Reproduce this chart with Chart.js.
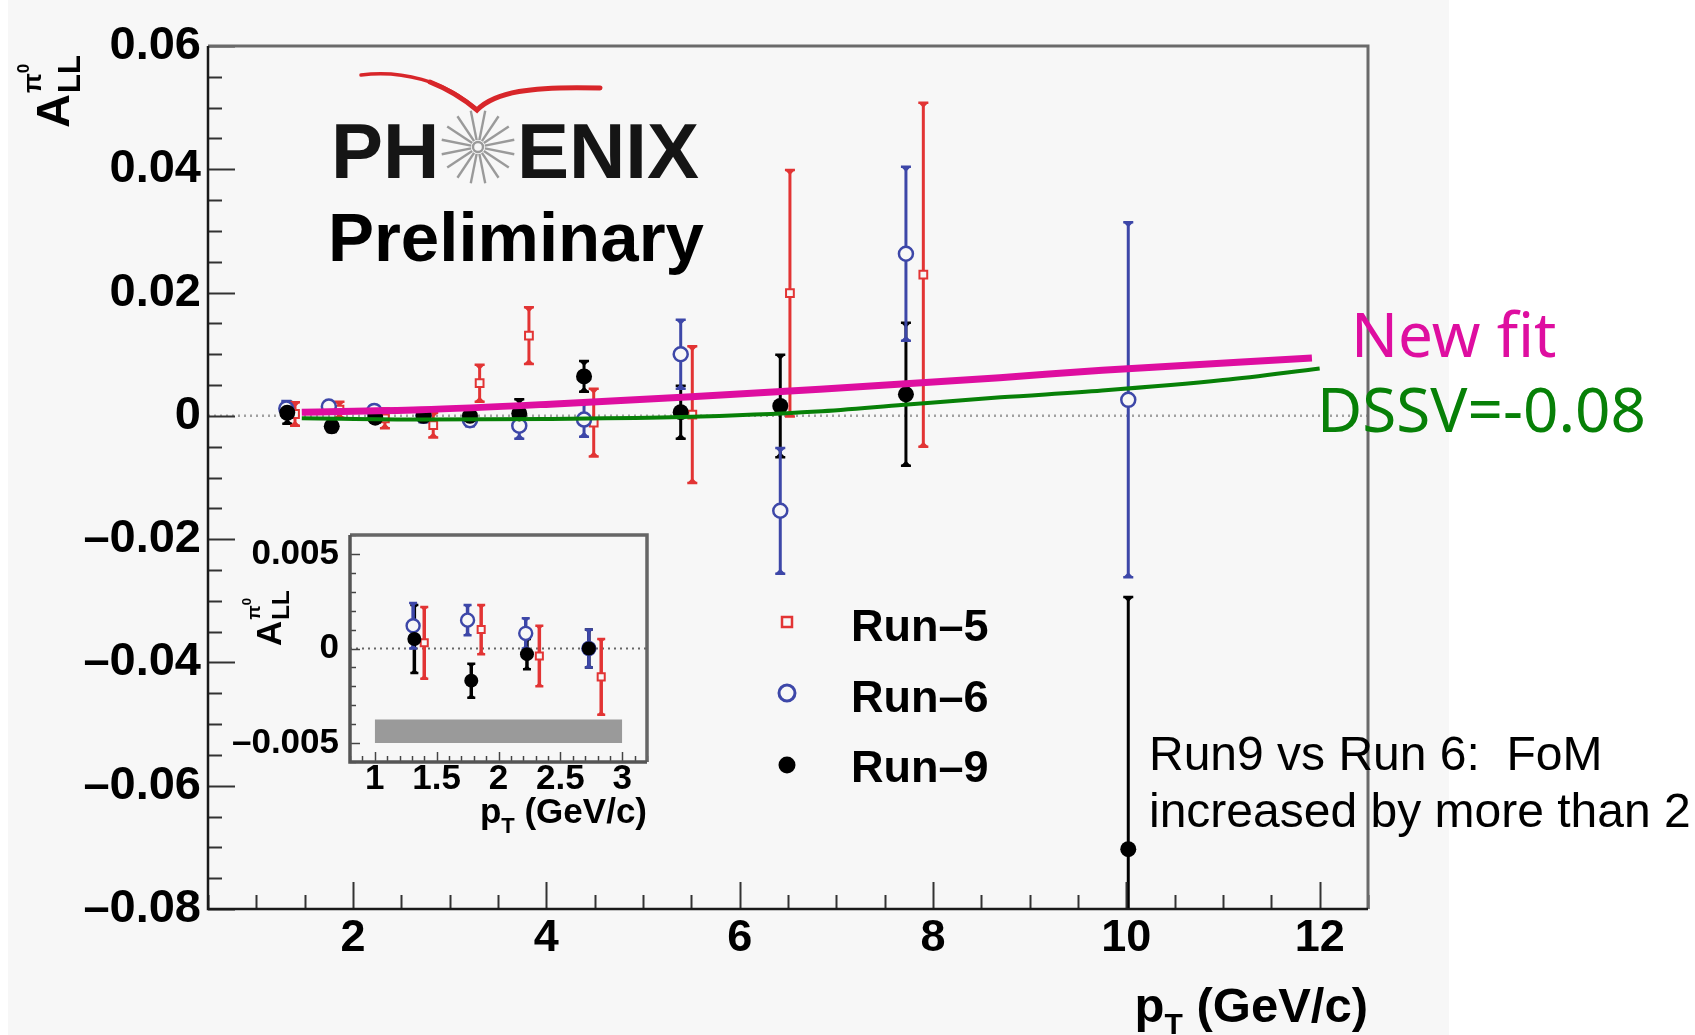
<!DOCTYPE html>
<html><head><meta charset="utf-8">
<script src="https://cdn.jsdelivr.net/npm/chart.js@4.4.1/dist/chart.umd.min.js"></script>
<style>
html,body{margin:0;padding:0;background:#fff;}
#wrap{position:relative;width:1695px;height:1035px;overflow:hidden;}
#main{position:absolute;left:0;top:0;width:1695px;height:1035px;}
#inset{position:absolute;left:230px;top:500px;width:430px;height:350px;}
</style></head><body>
<div id="wrap"><canvas id="main" width="1695" height="1035"></canvas><canvas id="inset" width="430" height="350"></canvas></div>
<script>
// ---------------- data ----------------
const run5X   = [1.40, 1.86, 2.33, 2.83, 3.31, 3.82, 4.49, 5.51, 6.52, 7.90];
const run5Y   = [0.0003, 0.0010, -0.0004, -0.0015, 0.0053, 0.0130, -0.0011, 0.0002, 0.0199, 0.0229];
const run5Err = [0.0019, 0.0013, 0.0016, 0.0020, 0.0030, 0.0046, 0.0055, 0.0111, 0.0200, 0.0279];

const run6X   = [1.31, 1.75, 2.22, 2.73, 3.21, 3.72, 4.39, 5.39, 6.42, 7.72, 10.02];
const run6Y   = [0.0012, 0.0015, 0.0008, 0.0000, -0.0007, -0.0016, -0.0006, 0.0100, -0.0154, 0.0263, 0.0026];
const run6Err = [0.0012, 0.0008, 0.0008, 0.0010, 0.0010, 0.0021, 0.0028, 0.0056, 0.0102, 0.0141, 0.0288];

const run9X   = [1.32, 1.78, 2.23, 2.73, 3.21, 3.72, 4.39, 5.39, 6.42, 7.72, 10.02];
const run9Y   = [0.0005, -0.0017, -0.0003, 0.0000, 0.0000, 0.0004, 0.0064, 0.0006, 0.0016, 0.0035, -0.0703];
const run9Err = [0.0018, 0.0009, 0.0008, 0.0010, 0.0012, 0.0023, 0.0025, 0.0043, 0.0083, 0.0116, 0.0409];

const newFitX = [1.47, 2.70, 4.04, 5.50, 6.83, 8.69, 9.75, 11.92];
const newFitY = [0.0006, 0.0010, 0.0019, 0.0031, 0.0043, 0.0062, 0.0074, 0.0094];
const dssvX   = [1.47, 2.70, 4.00, 5.40, 6.80, 7.70, 8.70, 9.75, 11.00, 12.00];
const dssvY   = [-0.0004, -0.0006, -0.0005, -0.0002, 0.0007, 0.0018, 0.0030, 0.0041, 0.0058, 0.0077];

const sysBandX    = [1, 3];
const sysBandLow  = [-0.005, -0.005];
const sysBandHigh = [-0.00375, -0.00375];

const mainXTicks = [2, 4, 6, 8, 10, 12];
const mainXTickLabels = ['2', '4', '6', '8', '10', '12'];
const mainYTicks = [-0.08, -0.06, -0.04, -0.02, 0, 0.02, 0.04, 0.06];
const mainYTickLabels = ['\u20130.08', '\u20130.06', '\u20130.04', '\u20130.02', '0', '0.02', '0.04', '0.06'];
const insetXTicks = [1, 1.5, 2, 2.5, 3];
const insetXTickLabels = ['1', '1.5', '2', '2.5', '3'];
const insetYTicks = [-0.005, 0, 0.005];
const insetYTickLabels = ['\u20130.005', '0', '0.005'];
const legendLabels = ['Run\u20135', 'Run\u20136', 'Run\u20139'];

// ---------------- styles ----------------
const BG = '#f7f7f7';
const RED = '#e23434', BLUE = '#3d47a8', BLACK = '#000000', PINK = '#de0ea0', GREEN = '#078007';
const FONT = '"Liberation Sans", Arial, sans-serif';

function pts(xs, ys, maxX) {
  const out = [];
  xs.forEach((x, i) => { if (maxX === undefined || x < maxX) out.push({x: x, y: ys[i]}); });
  return out;
}
function errs(xs, es, maxX) {
  const out = [];
  xs.forEach((x, i) => { if (maxX === undefined || x < maxX) out.push(es[i]); });
  return out;
}

// ---------------- plugins ----------------
const frameTicks = {
  id: 'frameTicks',
  beforeDatasetsDraw(chart, args, o) {
    const {ctx, chartArea: a, scales: {x, y}} = chart;
    ctx.save();
    ctx.strokeStyle = o.zeroColor; ctx.lineWidth = o.zeroWidth; ctx.setLineDash(o.zeroDash);
    const y0 = y.getPixelForValue(0);
    ctx.beginPath(); ctx.moveTo(a.left, y0); ctx.lineTo(a.right, y0); ctx.stroke();
    ctx.restore();
  },
  afterDatasetsDraw(chart, args, o) {
    const {ctx, chartArea: a, scales: {x, y}} = chart;
    ctx.save();
    ctx.strokeStyle = o.tickColor; ctx.lineWidth = o.tickWidth;
    const ky0 = Math.ceil(y.min / o.yMinor - 1e-6), ky1 = Math.floor(y.max / o.yMinor + 1e-6);
    for (let k = ky0; k <= ky1; k++) {
      const v = k * o.yMinor;
      const major = Math.abs(v / o.yMajor - Math.round(v / o.yMajor)) < 1e-6;
      const p = Math.round(y.getPixelForValue(v)) + 0.5;
      ctx.beginPath(); ctx.moveTo(a.left, p); ctx.lineTo(a.left + (major ? o.majorLen : o.minorLen), p); ctx.stroke();
    }
    const kx0 = Math.ceil(x.min / o.xMinor - 1e-6), kx1 = Math.floor(x.max / o.xMinor + 1e-6);
    for (let k = kx0; k <= kx1; k++) {
      const v = k * o.xMinor;
      const major = Math.abs(v / o.xMajor - Math.round(v / o.xMajor)) < 1e-6;
      const p = Math.round(x.getPixelForValue(v)) + 0.5;
      ctx.beginPath(); ctx.moveTo(p, a.bottom); ctx.lineTo(p, a.bottom - (major ? o.majorLen : o.minorLen)); ctx.stroke();
    }
    ctx.strokeStyle = o.frameColor; ctx.lineWidth = o.frameWidth;
    ctx.beginPath(); ctx.moveTo(a.left, a.top); ctx.lineTo(a.right, a.top); ctx.lineTo(a.right, a.bottom); ctx.stroke();
    ctx.strokeStyle = o.axisColor; ctx.lineWidth = o.axisWidth;
    ctx.beginPath(); ctx.moveTo(a.left, a.top); ctx.lineTo(a.left, a.bottom); ctx.lineTo(a.right, a.bottom); ctx.stroke();
    ctx.restore();
  }
};

const errorBars = {
  id: 'errorBars',
  beforeDatasetsDraw(chart, args, o) {
    const {ctx, chartArea: a, scales: {x, y}} = chart;
    ctx.save();
    ctx.beginPath(); ctx.rect(a.left, a.top, a.right - a.left, a.bottom - a.top); ctx.clip();
    chart.data.datasets.forEach((ds, i) => {
      if (!ds.errors || !chart.isDatasetVisible(i)) return;
      ctx.strokeStyle = ds.borderColor; ctx.fillStyle = ds.borderColor;
      ds.data.forEach((p, j) => {
        const e = ds.errors[j];
        const px = x.getPixelForValue(p.x);
        const y1 = y.getPixelForValue(p.y + e), y2 = y.getPixelForValue(p.y - e);
        ctx.lineWidth = o.width;
        ctx.beginPath(); ctx.moveTo(px, y1); ctx.lineTo(px, y2); ctx.stroke();
        ctx.lineWidth = o.capWidth;
        ctx.beginPath();
        ctx.moveTo(px - o.cap, y1); ctx.lineTo(px + o.cap, y1);
        ctx.moveTo(px - o.cap, y2); ctx.lineTo(px + o.cap, y2);
        ctx.stroke();
        ctx.beginPath();
        ctx.moveTo(px - o.cap, y1); ctx.lineTo(px + o.cap, y1); ctx.lineTo(px, y1 + o.cap); ctx.closePath();
        ctx.moveTo(px - o.cap, y2); ctx.lineTo(px + o.cap, y2); ctx.lineTo(px, y2 - o.cap); ctx.closePath();
        ctx.fill();
      });
    });
    ctx.restore();
  }
};

const bgPlugin = {
  id: 'bgFill',
  beforeDraw(chart) {
    const ctx = chart.ctx;
    ctx.save();
    ctx.fillStyle = '#ffffff'; ctx.fillRect(0, 0, chart.width, chart.height);
    ctx.fillStyle = BG; ctx.fillRect(8, 0, 1441, chart.height);
    ctx.restore();
  }
};

function rich(ctx, segs, x, y, align) {
  let total = 0;
  segs.forEach(s => { ctx.font = s.f; s.w = ctx.measureText(s.t).width; total += s.w; });
  let cx = align === 'right' ? x - total : x;
  segs.forEach(s => { ctx.font = s.f; ctx.fillText(s.t, cx, y + (s.dy || 0)); cx += s.w; });
}

function yTitle(ctx, bx, by, big, sub, sup, sup2, subDy, supDy, sup2Dy) {
  ctx.save();
  ctx.translate(bx, by); ctx.rotate(-Math.PI / 2);
  ctx.fillStyle = '#000'; ctx.textBaseline = 'alphabetic'; ctx.textAlign = 'left';
  ctx.font = 'bold ' + big + 'px ' + FONT;
  ctx.fillText('A', 0, 0);
  const wA = ctx.measureText('A').width;
  ctx.font = 'bold ' + sub + 'px ' + FONT;
  ctx.fillText('LL', wA + 1, subDy);
  ctx.font = 'bold ' + sup + 'px ' + FONT;
  ctx.fillText('\u03c0', wA + 1, supDy);
  const wp = ctx.measureText('\u03c0').width;
  ctx.font = 'bold ' + sup2 + 'px ' + FONT;
  ctx.fillText('0', wA + 1 + wp, sup2Dy);
  ctx.restore();
}

const mainText = {
  id: 'mainText',
  afterDraw(chart) {
    const ctx = chart.ctx;
    ctx.save();
    ctx.textBaseline = 'alphabetic'; ctx.textAlign = 'left';
    yTitle(ctx, 69, 128, 47, 31, 26, 17, 11, -28, -40);
    ctx.fillStyle = '#000';
    rich(ctx, [
      {t: 'p', f: 'bold 49px ' + FONT},
      {t: 'T', f: 'bold 30px ' + FONT, dy: 12},
      {t: ' (GeV/c)', f: 'bold 49px ' + FONT}
    ], 1368, 1022, 'right');

    // PHENIX logo
    ctx.fillStyle = '#151515';
    ctx.font = 'bold 78px ' + FONT;
    ctx.fillText('PH', 331, 178);
    ctx.fillText('ENIX', 517, 178);
    const cx = 478, cy = 147;
    ctx.strokeStyle = '#9a9a9a'; ctx.lineWidth = 2.4;
    for (let k = 0; k < 16; k++) {
      const t = k * Math.PI / 8 + Math.PI / 16;
      ctx.beginPath();
      ctx.moveTo(cx + 7 * Math.cos(t), cy + 7 * Math.sin(t));
      ctx.lineTo(cx + 37 * Math.cos(t), cy + 37 * Math.sin(t));
      ctx.stroke();
    }
    ctx.beginPath(); ctx.arc(cx, cy, 5, 0, Math.PI * 2); ctx.stroke();
    ctx.strokeStyle = '#d8262a'; ctx.lineCap = 'round';
    ctx.lineWidth = 3.5;
    ctx.beginPath();
    ctx.moveTo(361, 75);
    ctx.bezierCurveTo(400, 70, 445, 80, 477, 110);
    ctx.stroke();
    ctx.lineWidth = 5;
    ctx.beginPath();
    ctx.moveTo(430, 82);
    ctx.bezierCurveTo(450, 90, 465, 100, 477, 110);
    ctx.bezierCurveTo(495, 92, 530, 86, 600, 88);
    ctx.stroke();
    ctx.lineCap = 'butt';
    ctx.fillStyle = '#000';
    ctx.font = 'bold 69px ' + FONT;
    ctx.fillText('Preliminary', 328, 261);

    // legend
    const lx = 787, lys = [622, 693, 765], tys = [641, 712, 782];
    ctx.fillStyle = BG; ctx.strokeStyle = RED; ctx.lineWidth = 2.5;
    ctx.fillRect(lx - 5, lys[0] - 5, 10, 10); ctx.strokeRect(lx - 5, lys[0] - 5, 10, 10);
    ctx.strokeStyle = BLUE; ctx.lineWidth = 3;
    ctx.beginPath(); ctx.arc(lx, lys[1], 8, 0, Math.PI * 2); ctx.fill(); ctx.stroke();
    ctx.fillStyle = BLACK;
    ctx.beginPath(); ctx.arc(lx, lys[2], 8.5, 0, Math.PI * 2); ctx.fill();
    ctx.font = 'bold 45px ' + FONT;
    legendLabels.forEach((t, i) => ctx.fillText(t, 851, tys[i]));

    // annotations
    ctx.fillStyle = PINK; ctx.font = '62px "Noto Sans", sans-serif';
    ctx.fillText('New fit', 1351, 357);
    ctx.fillStyle = GREEN;
    ctx.fillText('DSSV=-0.08', 1317, 432);
    ctx.fillStyle = '#000'; ctx.font = '48px ' + FONT;
    ctx.fillText('Run9 vs Run 6:  FoM', 1149, 770);
    ctx.fillText('increased by more than 2', 1149, 827);
    ctx.restore();
  }
};

const insetText = {
  id: 'insetText',
  afterDraw(chart) {
    const ctx = chart.ctx;
    ctx.save();
    ctx.fillStyle = '#000'; ctx.textBaseline = 'alphabetic'; ctx.textAlign = 'left';
    yTitle(ctx, 51, 146, 35, 24, 19, 13, 8, -21, -30);
    rich(ctx, [
      {t: 'p', f: 'bold 35px ' + FONT},
      {t: 'T', f: 'bold 22px ' + FONT, dy: 10},
      {t: ' (GeV/c)', f: 'bold 35px ' + FONT}
    ], 417, 323, 'right');
    ctx.restore();
  }
};

// ---------------- main chart ----------------
function tickFont(size, lh) { return {family: 'Liberation Sans', size: size, weight: 'bold', lineHeight: lh || 1.2}; }

new Chart(document.getElementById('main'), {
  type: 'scatter',
  data: {
    datasets: [
      {label: 'New fit', data: pts(newFitX, newFitY), showLine: true, borderColor: PINK, borderWidth: 7,
       pointRadius: 0, cubicInterpolationMode: 'monotone', order: 0},
      {label: 'DSSV', data: pts(dssvX, dssvY), showLine: true, borderColor: GREEN, borderWidth: 4,
       pointRadius: 0, cubicInterpolationMode: 'monotone', order: 0},
      {label: legendLabels[2], data: pts(run9X, run9Y), errors: errs(run9X, run9Err), borderColor: BLACK,
       backgroundColor: BLACK, pointStyle: 'circle', pointRadius: 8, pointBorderWidth: 0, order: 1},
      {label: legendLabels[1], data: pts(run6X, run6Y), errors: errs(run6X, run6Err), borderColor: BLUE,
       backgroundColor: BG, pointStyle: 'circle', pointRadius: 7, pointBorderWidth: 2.5, order: 2},
      {label: legendLabels[0], data: pts(run5X, run5Y), errors: errs(run5X, run5Err), borderColor: RED,
       backgroundColor: BG, pointStyle: 'rect', pointRadius: 5.5, pointBorderWidth: 2, order: 3}
    ]
  },
  options: {
    responsive: false, animation: false, devicePixelRatio: 1,
    layout: {padding: {left: 0, top: 46, right: 327, bottom: 0}},
    plugins: {
      legend: {display: false}, tooltip: {enabled: false},
      frameTicks: {yMinor: 0.005, yMajor: 0.02, xMinor: 0.5, xMajor: 2, majorLen: 27, minorLen: 14,
        tickColor: '#333', tickWidth: 2, frameColor: '#6a6a6a', frameWidth: 3, axisColor: '#1a1a1a', axisWidth: 2.5,
        zeroColor: '#a0a0a0', zeroWidth: 2.5, zeroDash: [2, 4]},
      errorBars: {width: 3, cap: 5, capWidth: 2.5}
    },
    scales: {
      x: {type: 'linear', min: 0.5, max: 12.5,
        afterFit: s => { s.height = 126; },
        afterBuildTicks: s => { s.ticks = mainXTicks.map(v => ({value: v})); },
        grid: {display: false}, border: {display: false},
        ticks: {autoSkip: false, maxRotation: 0, padding: -5, color: '#000', font: tickFont(45),
          callback: (v, i) => mainXTickLabels[i]}},
      y: {type: 'linear', min: -0.08, max: 0.06,
        afterFit: s => { s.width = 208; },
        afterBuildTicks: s => { s.ticks = mainYTicks.map(v => ({value: v})); },
        grid: {display: false}, border: {display: false},
        ticks: {autoSkip: false, padding: -1, color: '#000', font: tickFont(47),
          callback: (v, i) => mainYTickLabels[i]}}
    }
  },
  plugins: [bgPlugin, frameTicks, errorBars, mainText]
});

// ---------------- inset chart ----------------
const INSET_MAX = 3.2;
new Chart(document.getElementById('inset'), {
  type: 'scatter',
  data: {
    datasets: [
      {label: 'sys', data: pts(sysBandX, sysBandHigh), showLine: true, borderWidth: 0, pointRadius: 0,
       backgroundColor: '#9a9a9a', borderColor: 'rgba(0,0,0,0)', fill: {value: sysBandLow[0]}, order: 5},
      {label: legendLabels[2], data: pts(run9X, run9Y, INSET_MAX), errors: errs(run9X, run9Err, INSET_MAX),
       borderColor: BLACK, backgroundColor: BLACK, pointStyle: 'circle', pointRadius: 7, pointBorderWidth: 0, order: 1},
      {label: legendLabels[1], data: pts(run6X, run6Y, INSET_MAX), errors: errs(run6X, run6Err, INSET_MAX),
       borderColor: BLUE, backgroundColor: BG, pointStyle: 'circle', pointRadius: 6.5, pointBorderWidth: 2.4, order: 2},
      {label: legendLabels[0], data: pts(run5X, run5Y, INSET_MAX), errors: errs(run5X, run5Err, INSET_MAX),
       borderColor: RED, backgroundColor: BG, pointStyle: 'rect', pointRadius: 5, pointBorderWidth: 2, order: 3}
    ]
  },
  options: {
    responsive: false, animation: false, devicePixelRatio: 1,
    layout: {padding: {left: 0, top: 35, right: 13, bottom: 0}},
    plugins: {
      legend: {display: false}, tooltip: {enabled: false},
      filler: {propagate: false},
      frameTicks: {yMinor: 0.001, yMajor: 0.005, xMinor: 0.1, xMajor: 0.5, majorLen: 10, minorLen: 6,
        tickColor: '#444', tickWidth: 1.5, frameColor: '#666', frameWidth: 3.5, axisColor: '#555', axisWidth: 3.5,
        zeroColor: '#666', zeroWidth: 2, zeroDash: [2, 4]},
      errorBars: {width: 3.5, cap: 4, capWidth: 2.5}
    },
    scales: {
      x: {type: 'linear', min: 0.8, max: 3.2,
        afterFit: s => { s.height = 88; },
        afterBuildTicks: s => { s.ticks = insetXTicks.map(v => ({value: v})); },
        grid: {display: false}, border: {display: false},
        ticks: {autoSkip: false, maxRotation: 0, padding: -8, color: '#000', font: tickFont(35, 1.0),
          callback: (v, i) => insetXTickLabels[i]}},
      y: {type: 'linear', min: -0.006, max: 0.006,
        afterFit: s => { s.width = 120; },
        afterBuildTicks: s => { s.ticks = insetYTicks.map(v => ({value: v})); },
        grid: {display: false}, border: {display: false},
        ticks: {autoSkip: false, padding: 3, color: '#000', font: tickFont(35),
          callback: (v, i) => insetYTickLabels[i]}}
    }
  },
  plugins: [frameTicks, errorBars, insetText]
});
</script>
</body></html>
